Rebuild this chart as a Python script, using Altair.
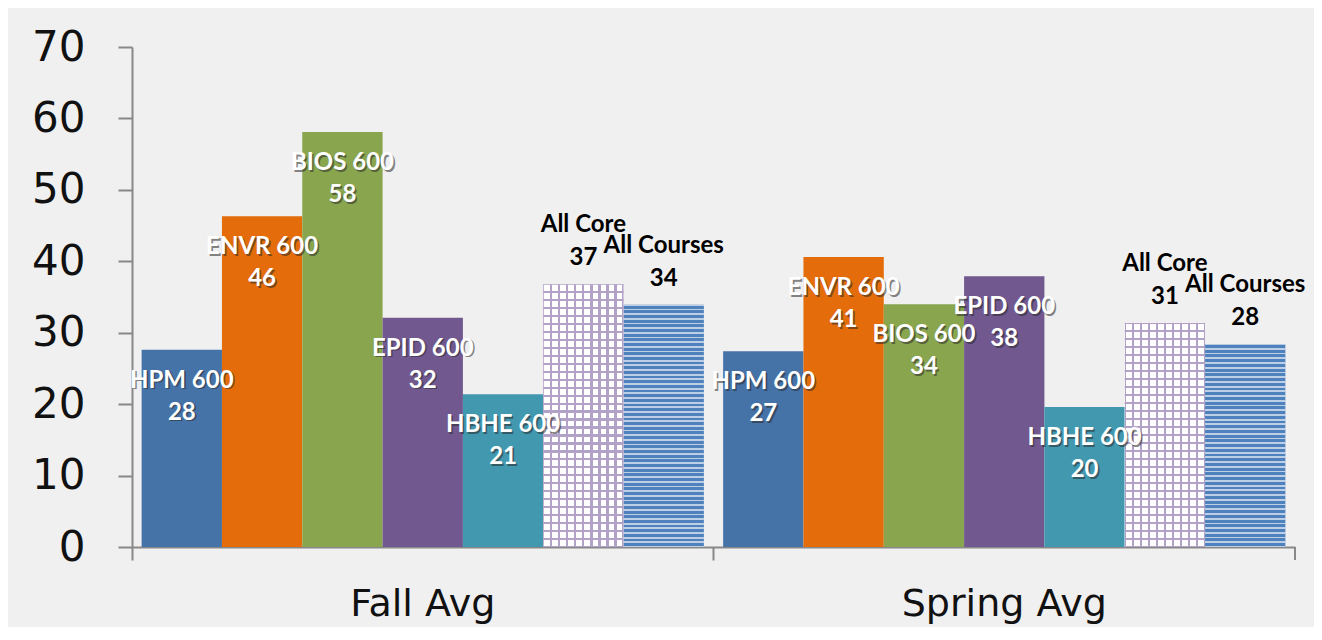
import altair as alt
import pandas as pd

# ---- data ----
periods = ["Fall Avg", "Spring Avg"]
series = ["HPM 600", "ENVR 600", "BIOS 600", "EPID 600", "HBHE 600", "All Core", "All Courses"]
fall_values = [27.6, 46.3, 58.1, 32.1, 21.4, 36.8, 33.9]
spring_values = [27.4, 40.6, 34.0, 37.9, 19.6, 31.4, 28.4]
fall_labels = ["28", "46", "58", "32", "21", "37", "34"]
spring_labels = ["27", "41", "34", "38", "20", "31", "28"]
inside_series = ["HPM 600", "ENVR 600", "BIOS 600", "EPID 600", "HBHE 600"]
outside_series = ["All Core", "All Courses"]
bar_colors = ["#4572A7", "#E46C0A", "#89A54E", "#71588F", "#4198AF", "#FFFFFF", "#4F81BD"]
y_ticks = [0, 10, 20, 30, 40, 50, 60, 70]

rows = []
for p, vals, labs in [(periods[0], fall_values, fall_labels), (periods[1], spring_values, spring_labels)]:
    for s, v, l in zip(series, vals, labs):
        rows.append({"period": p, "series": s, "value": v, "label": l})
df = pd.DataFrame(rows)

# ---- layout ----
W, H = 1163, 500
AXIS = "#888888"
LAV = "#B3A2C7"
CLEAR = "rgba(255,255,255,0)"


def x_axis():
    return alt.Axis(title=None, labelAngle=0, bandPosition=0, tickSize=13, tickWidth=2,
                    tickColor=AXIS, domainColor=AXIS, domainWidth=2,
                    labelFont="DejaVu Sans", labelFontSize=38, labelColor="#111111",
                    labelPadding=25, labelLimit=0)


x_enc = alt.X("period:N", sort=periods,
              scale=alt.Scale(domain=periods, paddingInner=0, paddingOuter=0),
              axis=x_axis())
xoff = alt.XOffset("series:N", sort=series,
                   scale=alt.Scale(domain=series, paddingInner=0, paddingOuter=0.12))
y_enc = alt.Y("value:Q", scale=alt.Scale(domain=[0, 70], nice=False, zero=True),
              axis=alt.Axis(title=None, values=y_ticks, grid=False, tickSize=14, tickWidth=2,
                            tickColor=AXIS, domainColor=AXIS, domainWidth=2,
                            labelFont="DejaVu Sans", labelFontSize=42, labelColor="#111111",
                            labelPadding=33))

base = alt.Chart(df).encode(x=x_enc, xOffset=xoff, y=y_enc)

bars = base.mark_bar().encode(
    color=alt.Color("series:N", scale=alt.Scale(domain=series, range=bar_colors), legend=None)
)


def stripes(n, w, color):
    stops = []
    for i in range(n + 1):
        a = i / n
        s = max(0.0, a - w / 2)
        e = min(1.0, a + w / 2)
        stops += [alt.GradientStop(offset=s, color=CLEAR), alt.GradientStop(offset=s, color=color),
                  alt.GradientStop(offset=e, color=color), alt.GradientStop(offset=e, color=CLEAR)]
    return stops


def grad(stops, vertical=True):
    if vertical:
        return alt.LinearGradient(gradient="linear", stops=stops, x1=0, x2=0, y1=0, y2=1)
    return alt.LinearGradient(gradient="linear", stops=stops, x1=0, x2=1, y1=0, y2=0)


bar_w = W / 2 / (7 + 0.24)
pattern_layers = []
for p, vals in [(periods[0], fall_values), (periods[1], spring_values)]:
    core_v = vals[series.index("All Core")]
    crs_v = vals[series.index("All Courses")]
    core_px = core_v * H / 70
    crs_px = crs_v * H / 70
    n_h = max(1, round(core_px / 8))
    core_sel = base.transform_filter(
        (alt.datum.period == p) & (alt.datum.series == "All Core"))
    pattern_layers.append(core_sel.mark_bar(fill=grad(stripes(n_h, 2.2 / core_px, LAV), True)))
    pattern_layers.append(core_sel.mark_bar(fill=grad(stripes(10, 2.2 / bar_w, LAV), False)))
    n_c = max(1, round(crs_px / 4.7))
    crs_sel = base.transform_filter(
        (alt.datum.period == p) & (alt.datum.series == "All Courses"))
    pattern_layers.append(crs_sel.mark_bar(
        fill=grad(stripes(n_c, 1.8 / crs_px, "rgba(255,255,255,0.62)"), True)))

inside = base.transform_filter(alt.FieldOneOfPredicate(field="series", oneOf=inside_series))
outside = base.transform_filter(alt.FieldOneOfPredicate(field="series", oneOf=outside_series))

tkw = dict(font="Lato", fontWeight="bold", fontSize=24, baseline="middle", align="center")
in_name_sh = inside.mark_text(color="#2a2a2a", opacity=0.55, dx=1.6, dy=32.6, **tkw).encode(text="series:N")
in_name = inside.mark_text(color="#FFFFFF", dy=31, **tkw).encode(text="series:N")
in_val_sh = inside.mark_text(color="#2a2a2a", opacity=0.55, dx=1.6, dy=64.6, **tkw).encode(text="label:N")
in_val = inside.mark_text(color="#FFFFFF", dy=63, **tkw).encode(text="label:N")
out_name = outside.mark_text(color="#000000", dy=-59, **tkw).encode(text="series:N")
out_val = outside.mark_text(color="#000000", dy=-26, **tkw).encode(text="label:N")

end_tick = alt.Chart(df).transform_filter(alt.datum.period == periods[-1]).mark_rule(
    color=AXIS, strokeWidth=2
).encode(
    x=alt.X("period:N", sort=periods, bandPosition=1,
            scale=alt.Scale(domain=periods, paddingInner=0, paddingOuter=0),
            axis=x_axis()),
    y=alt.value(H), y2=alt.value(H + 13)
)

chart = alt.layer(
    bars, *pattern_layers, in_name_sh, in_name, in_val_sh, in_val, out_name, out_val, end_tick
).properties(
    width=W, height=H,
    background="#F0F0F0",
    padding={"left": 124, "top": 39, "right": 19, "bottom": 80},
    autosize=alt.AutoSizeParams(type="none"),
).configure_view(stroke=None)

chart.save("out.html", embed_options={"renderer": "svg", "actions": False})
